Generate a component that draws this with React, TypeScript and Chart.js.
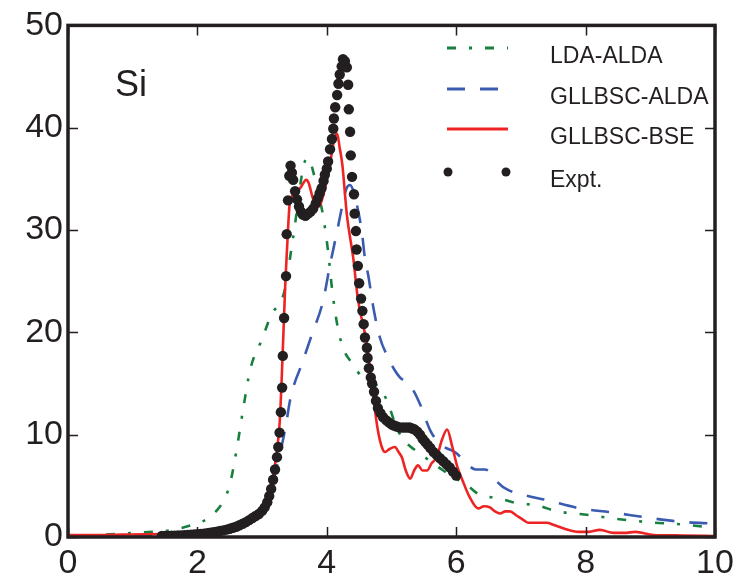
import React, { useEffect, useRef } from "react";
import { Chart, registerables } from "chart.js";
Chart.register(...registerables);

// ---- data (photon energy in eV vs. Im eps) ----
const ldaX = [0, 0.5, 1.0, 1.3, 1.62, 1.93, 2.16, 2.3, 2.38, 2.5, 2.6, 2.71, 2.81, 2.9, 2.97, 3.15, 3.31, 3.38, 3.43, 3.51, 3.58, 3.66, 3.72, 3.79, 3.87, 3.94, 4.02, 4.08, 4.16, 4.25, 4.4, 4.56, 4.7, 4.82, 4.95, 5.05, 5.16, 5.3, 5.41, 5.6, 5.8, 6.0, 6.14, 6.37, 6.65, 6.94, 7.25, 7.56, 7.84, 8.11, 8.43, 8.73, 9.04, 9.35, 9.69, 10];
const ldaY = [0.1, 0.2, 0.4, 0.5, 0.7, 1.2, 1.8, 2.6, 3.3, 5.1, 8.3, 12.6, 16.2, 18.0, 18.9, 21.8, 23.3, 25.0, 27.2, 30.6, 34.0, 36.7, 37.0, 35.7, 33.5, 31.5, 27.9, 24.3, 20.8, 18.5, 16.9, 15.5, 15.0, 14.6, 13.0, 11.2, 9.7, 8.8, 8.3, 7.4, 6.5, 5.7, 5.2, 4.1, 3.8, 3.3, 3.1, 2.5, 2.3, 2.1, 1.8, 1.6, 1.4, 1.3, 1.1, 0.9];

const gllbX = [0, 1.0, 2.0, 2.5, 2.8, 3.0, 3.15, 3.25, 3.33, 3.38, 3.43, 3.5, 3.59, 3.77, 3.94, 4.05, 4.16, 4.23, 4.3, 4.36, 4.44, 4.54, 4.59, 4.64, 4.72, 4.82, 4.95, 5.05, 5.13, 5.29, 5.44, 5.6, 5.75, 6.0, 6.1, 6.21, 6.3, 6.44, 6.55, 6.65, 6.8, 6.99, 7.4, 7.91, 8.41, 8.95, 9.46, 10];
const gllbY = [0, 0.05, 0.2, 0.6, 1.5, 3.0, 5.0, 7.5, 9.7, 11.4, 13.3, 15.0, 16.5, 19.8, 23.0, 26.6, 29.9, 32.1, 34.0, 34.4, 33.1, 29.9, 27.2, 25.6, 22.4, 19.5, 17.5, 16.3, 15.6, 14.8, 13.0, 10.4, 9.1, 8.2, 7.6, 6.9, 6.6, 6.6, 6.2, 5.3, 4.6, 4.2, 3.6, 2.8, 2.4, 1.9, 1.5, 1.3];

const bseX = [0, 0.5, 1.0, 1.5, 2.0, 2.3, 2.5, 2.7, 2.9, 3.0, 3.1, 3.17, 3.22, 3.27, 3.3, 3.33, 3.36, 3.4, 3.43, 3.5, 3.6, 3.68, 3.72, 3.79, 3.87, 3.95, 4.05, 4.12, 4.16, 4.2, 4.24, 4.31, 4.41, 4.48, 4.55, 4.62, 4.72, 4.79, 4.85, 4.9, 4.97, 5.05, 5.12, 5.16, 5.22, 5.29, 5.35, 5.41, 5.48, 5.55, 5.62, 5.7, 5.78, 5.86, 5.94, 6.02, 6.1, 6.2, 6.34, 6.43, 6.52, 6.6, 6.68, 6.76, 6.83, 6.93, 7.03, 7.11, 7.25, 7.4, 7.5, 7.63, 7.9, 8.05, 8.22, 8.43, 8.6, 8.77, 9.05, 9.5, 10];
const bseY = [0.2, 0.2, 0.25, 0.3, 0.4, 0.6, 0.9, 1.5, 2.3, 3.0, 4.2, 6.0, 8.0, 11.0, 15.0, 20.0, 25.0, 30.0, 32.8, 33.5, 34.2, 34.9, 34.6, 33.0, 32.3, 33.5, 36.5, 39.0, 39.4, 38.0, 36.4, 31.5, 27.2, 23.3, 21.0, 18.9, 13.6, 10.4, 8.8, 8.3, 8.6, 8.8, 8.2, 7.8, 6.5, 5.7, 6.5, 7.0, 6.5, 6.5, 7.2, 7.8, 9.5, 10.5, 8.8, 6.8, 5.5, 4.0, 2.8, 3.0, 2.9, 2.5, 2.3, 2.5, 2.5, 2.1, 1.7, 1.4, 1.4, 1.4, 1.2, 0.9, 0.5, 0.5, 0.7, 0.4, 0.4, 0.5, 0.2, 0.15, 0.1];

const exptX = [
  1.45, 1.5, 1.55, 1.6, 1.65, 1.7, 1.75, 1.8, 1.85, 1.9,
  1.95, 2.0, 2.05, 2.1, 2.15, 2.2, 2.25, 2.3, 2.35, 2.4,
  2.45, 2.5, 2.55, 2.6, 2.65, 2.7, 2.75, 2.8, 2.85, 2.9,
  2.95, 3.0, 3.04, 3.08, 3.11, 3.14, 3.17, 3.2, 3.23, 3.25,
  3.27, 3.29, 3.31, 3.32, 3.34, 3.37, 3.38, 3.4, 3.42, 3.44,
  3.46, 3.48, 3.51, 3.54, 3.57, 3.6, 3.63, 3.67, 3.71, 3.75,
  3.79, 3.83, 3.86, 3.89, 3.92, 3.95, 3.97, 4.0, 4.02, 4.05,
  4.08, 4.1, 4.11, 4.13, 4.16, 4.18, 4.2, 4.23, 4.25, 4.28,
  4.31, 4.33, 4.34, 4.36, 4.37, 4.39, 4.42, 4.43, 4.45, 4.46,
  4.48, 4.5, 4.53, 4.55, 4.57, 4.59, 4.62, 4.63, 4.65, 4.68,
  4.7, 4.73, 4.76, 4.79, 4.83, 4.87, 4.92, 4.96, 5.0, 5.04,
  5.08, 5.13, 5.18, 5.23, 5.28, 5.32, 5.36, 5.4, 5.44, 5.48,
  5.52, 5.56, 5.6, 5.65, 5.7, 5.75, 5.8, 5.85, 5.9, 5.95,
  6.0,
];
const exptY = [
  0.1, 0.1, 0.1, 0.12, 0.13, 0.15, 0.16, 0.18, 0.2, 0.22,
  0.25, 0.28, 0.3, 0.33, 0.37, 0.42, 0.47, 0.52, 0.58, 0.65,
  0.72, 0.8, 0.9, 1.0, 1.15, 1.3, 1.45, 1.65, 1.85, 2.05,
  2.25, 2.55, 2.9, 3.4, 4.0, 4.7, 5.6, 6.6, 7.8, 8.8,
  10.2, 12.2, 14.6, 17.7, 21.4, 25.5, 29.6, 32.9, 35.3, 36.3,
  35.6, 34.9, 33.8, 33.0, 32.3, 31.8, 31.5, 31.4, 31.6, 31.8,
  32.1, 32.6, 33.1, 33.6, 34.1, 34.8, 35.4, 36.0, 36.7, 37.9,
  38.9, 39.9, 40.9, 42.0, 43.2, 44.3, 45.2, 46.0, 46.7, 46.5,
  45.9, 44.2, 41.8, 39.6, 37.3, 35.2, 33.5, 31.6, 29.9, 28.1,
  26.5, 24.8, 23.3, 22.1, 20.8, 19.5, 18.5, 17.5, 16.5, 15.6,
  15.0, 14.2, 13.3, 12.6, 12.1, 11.7, 11.4, 11.2, 11.0, 10.9,
  10.8, 10.7, 10.7, 10.7, 10.7, 10.6, 10.5, 10.3, 10.0, 9.6,
  9.3, 9.0, 8.7, 8.3, 8.0, 7.7, 7.4, 7.1, 6.8, 6.4,
  6.0,
];

const xTicks = [0, 2, 4, 6, 8, 10];
const yTicks = [0, 10, 20, 30, 40, 50];
const seriesLabels = ["LDA-ALDA", "GLLBSC-ALDA", "GLLBSC-BSE", "Expt."];
const seriesColors = ["#17803f", "#3b5bb0", "#ee2424", "#231f20"];
const panelLabel = "Si";

const pts = (xs: number[], ys: number[]) => xs.map((x, i) => ({ x, y: ys[i] }));

const AXIS = "#231f20";
const TICK_FONT = "'Liberation Sans', Arial, sans-serif";

const decorPlugin = {
  id: "decor",
  afterDraw(chart: any) {
    const { ctx, chartArea, scales } = chart;
    const { left, right, top, bottom } = chartArea;
    const xs = scales.x, ys = scales.y;
    ctx.save();
    // ticks on all four sides, pointing inward
    ctx.strokeStyle = AXIS;
    ctx.lineWidth = 1.5;
    ctx.beginPath();
    xTicks.forEach((v) => {
      const px = Math.round(xs.getPixelForValue(v)) + 0.5;
      ctx.moveTo(px, bottom); ctx.lineTo(px, bottom - 10);
      ctx.moveTo(px, top); ctx.lineTo(px, top + 10);
    });
    yTicks.forEach((v) => {
      const py = Math.round(ys.getPixelForValue(v)) + 0.5;
      ctx.moveTo(left, py); ctx.lineTo(left + 10, py);
      ctx.moveTo(right, py); ctx.lineTo(right - 10, py);
    });
    ctx.stroke();
    // frame
    ctx.lineWidth = 3.5;
    ctx.strokeRect(left, top, right - left, bottom - top);

    // panel label
    ctx.fillStyle = AXIS;
    ctx.font = `36px ${TICK_FONT}`;
    ctx.textBaseline = "alphabetic";
    ctx.textAlign = "left";
    ctx.fillText(panelLabel, 115, 96);

    // legend
    const rowY = [48, 89, 129, 172];
    const x0 = 447, x1 = 507, tx = 550;
    ctx.font = `23px ${TICK_FONT}`;
    seriesLabels.forEach((lab, i) => {
      const y = rowY[i];
      ctx.strokeStyle = seriesColors[i];
      ctx.fillStyle = seriesColors[i];
      ctx.lineWidth = 3;
      if (i === 0) ctx.setLineDash([9, 13, 3, 13]);
      else if (i === 1) ctx.setLineDash([18, 15]);
      else ctx.setLineDash([]);
      if (i < 3) {
        ctx.beginPath(); ctx.moveTo(x0, y); ctx.lineTo(x1 + 1, y); ctx.stroke();
      } else {
        [x0 + 1, x1 - 1].forEach((cx) => {
          ctx.beginPath(); ctx.arc(cx, y, 4.5, 0, Math.PI * 2); ctx.fill();
        });
      }
      ctx.setLineDash([]);
      ctx.fillStyle = AXIS;
      ctx.fillText(lab, tx, y + 15);
    });
    ctx.restore();
  },
};

export default function App() {
  const ref = useRef<HTMLCanvasElement | null>(null);
  useEffect(() => {
    if (!ref.current) return;
    const lineCommon = {
      type: "line" as const,
      showLine: true,
      pointRadius: 0,
      borderWidth: 2.6,
      fill: false,
      cubicInterpolationMode: "monotone" as const,
    };
    const chart = new Chart(ref.current, {
      type: "scatter",
      data: {
        datasets: [
          { ...lineCommon, label: seriesLabels[0], data: pts(ldaX, ldaY), borderColor: seriesColors[0], borderDash: [9, 13, 3, 13], order: 4 },
          { ...lineCommon, label: seriesLabels[1], data: pts(gllbX, gllbY), borderColor: seriesColors[1], borderDash: [18, 15], order: 3 },
          { ...lineCommon, label: seriesLabels[2], data: pts(bseX, bseY), borderColor: seriesColors[2], order: 2 },
          {
            type: "scatter" as const,
            label: seriesLabels[3],
            data: pts(exptX, exptY),
            showLine: false,
            pointRadius: 5.2,
            pointBorderWidth: 0,
            pointBackgroundColor: seriesColors[3],
            pointBorderColor: seriesColors[3],
            order: 1,
          },
        ] as any,
      },
      options: {
        animation: false,
        responsive: false,
        devicePixelRatio: 1,
        layout: { padding: { top: 23, right: 32, left: 0, bottom: 0 } },
        plugins: { legend: { display: false }, tooltip: { enabled: false } },
        scales: {
          x: {
            type: "linear",
            min: 0,
            max: 10,
            ticks: { stepSize: 2, padding: 6, color: AXIS, font: { family: TICK_FONT, size: 34 }, maxRotation: 0 },
            grid: { display: false, drawTicks: false },
            border: { display: false },
            afterFit: (s: any) => { s.height = 40; },
          },
          y: {
            type: "linear",
            min: 0,
            max: 50,
            ticks: { stepSize: 10, padding: 5, color: AXIS, font: { family: TICK_FONT, size: 34 } },
            grid: { display: false, drawTicks: false },
            border: { display: false },
            afterFit: (s: any) => { s.width = 68; },
          },
        },
      } as any,
      plugins: [decorPlugin],
    });
    return () => chart.destroy();
  }, []);
  return (
    <div style={{ position: "absolute", left: 0, top: 0, width: 747, height: 577, background: "#fff" }}>
      <canvas ref={ref} width={747} height={577} />
    </div>
  );
}
